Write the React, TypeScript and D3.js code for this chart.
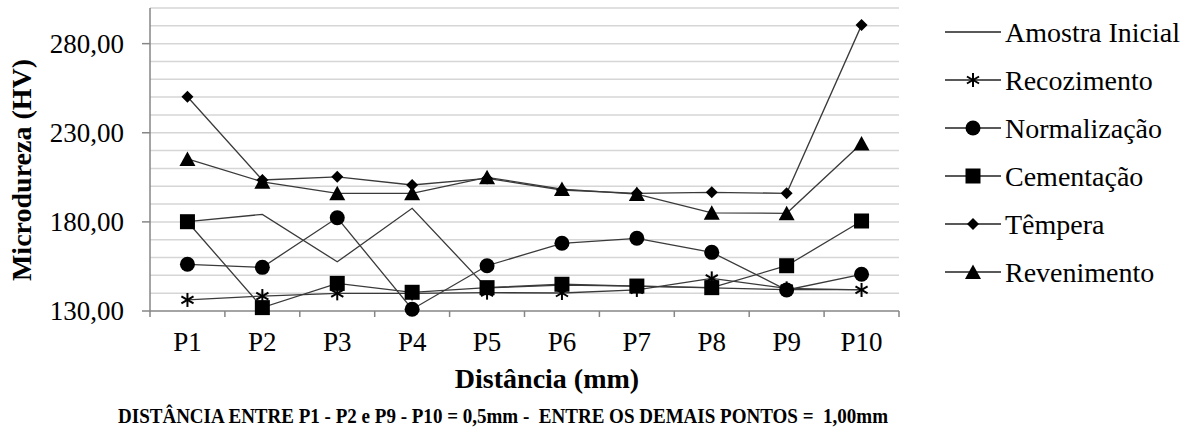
import React, { useEffect, useRef } from 'react';
import * as d3 from 'd3';

// pontos de medição
const points = ['P1', 'P2', 'P3', 'P4', 'P5', 'P6', 'P7', 'P8', 'P9', 'P10'];

// microdureza (HV)
const amostraInicial = [180.1, 184.2, 157.6, 187.6, 143.0, 144.5, 144.0, 143.0, 142.0, 142.0];
const recozimento = [136.2, 138.4, 139.9, 139.9, 140.3, 140.1, 141.8, 148.3, 142.7, 141.8];
const normalizacao = [156.2, 154.5, 182.3, 131.0, 155.4, 168.0, 170.8, 162.9, 141.8, 150.6];
const cementacao = [180.1, 131.9, 145.5, 140.5, 143.1, 145.0, 144.0, 143.1, 155.4, 180.5];
const tempera = [250.2, 203.5, 205.3, 200.7, 204.4, 197.9, 196.0, 196.6, 196.0, 290.4];
const revenimento = [215.3, 202.5, 196.0, 196.0, 205.0, 198.4, 195.6, 185.1, 184.8, 224.0];

const yLabelTicks = [130, 180, 230, 280];

const series = [
  { name: 'Amostra Inicial', values: amostraInicial, marker: 'none' },
  { name: 'Recozimento', values: recozimento, marker: 'star' },
  { name: 'Normalização', values: normalizacao, marker: 'circle' },
  { name: 'Cementação', values: cementacao, marker: 'square' },
  { name: 'Têmpera', values: tempera, marker: 'diamond' },
  { name: 'Revenimento', values: revenimento, marker: 'triangle' },
];

const note = 'DISTÂNCIA ENTRE P1 - P2 e P9 - P10 = 0,5mm -  ENTRE OS DEMAIS PONTOS =  1,00mm';

const FONT = '"Liberation Serif", "Times New Roman", serif';
const W = 1188;
const H = 430;

function drawMarker(g: d3.Selection<SVGGElement, unknown, null, undefined>, type: string, cx: number, cy: number) {
  const m = g.append('g').attr('transform', `translate(${cx},${cy})`);
  if (type === 'circle') {
    m.append('circle').attr('r', 7.5).attr('fill', '#000');
  } else if (type === 'square') {
    m.append('rect').attr('x', -7.5).attr('y', -7.5).attr('width', 15).attr('height', 15).attr('fill', '#000');
  } else if (type === 'diamond') {
    m.append('path').attr('d', 'M0,-6L6,0L0,6L-6,0Z').attr('fill', '#000');
  } else if (type === 'triangle') {
    m.append('path').attr('d', 'M0,-7.5L8,7L-8,7Z').attr('fill', '#000');
  } else if (type === 'star') {
    [90, 30, 150].forEach(a => {
      const r = (a * Math.PI) / 180;
      const dx = Math.cos(r) * 7;
      const dy = Math.sin(r) * 7;
      m.append('line')
        .attr('x1', -dx).attr('y1', -dy).attr('x2', dx).attr('y2', dy)
        .attr('stroke', '#000').attr('stroke-width', 2);
    });
  }
}

export default function App() {
  const svgRef = useRef<SVGSVGElement>(null);

  useEffect(() => {
    if (!svgRef.current) return;
    const svg = d3.select(svgRef.current);
    svg.selectAll('*').remove();

    const left = 150;
    const right = 899;
    const top = 8;
    const bottom = 311;

    const x = d3.scaleBand().domain(points).range([left, right]);
    const y = d3.scaleLinear().domain([130, 300]).range([bottom, top]);
    const cx = (p: string) => (x(p) as number) + x.bandwidth() / 2;

    svg.append('rect').attr('width', W).attr('height', H).attr('fill', '#fff');

    // linhas de grade
    svg.append('g')
      .selectAll('line')
      .data(y.ticks(17).filter(v => v > 130))
      .enter()
      .append('line')
      .attr('x1', left).attr('x2', right)
      .attr('y1', d => y(d)).attr('y2', d => y(d))
      .attr('stroke', '#d6d6d6')
      .attr('stroke-width', 1.5);

    // eixo y
    svg.append('line')
      .attr('x1', left).attr('x2', left).attr('y1', top).attr('y2', bottom)
      .attr('stroke', '#868686').attr('stroke-width', 1.5);
    const yt = svg.append('g');
    yLabelTicks.forEach(v => {
      yt.append('line')
        .attr('x1', left - 8).attr('x2', left).attr('y1', y(v)).attr('y2', y(v))
        .attr('stroke', '#868686').attr('stroke-width', 1.5);
      yt.append('text')
        .attr('x', 124).attr('y', y(v)).attr('dy', '0.34em')
        .attr('text-anchor', 'end')
        .style('font-family', FONT).style('font-size', '27px')
        .text(d3.format('.2f')(v).replace('.', ','));
    });

    // eixo x
    svg.append('line')
      .attr('x1', left).attr('x2', right).attr('y1', bottom).attr('y2', bottom)
      .attr('stroke', '#868686').attr('stroke-width', 1.5);
    const xt = svg.append('g');
    points.forEach(p => {
      const bx = x(p) as number;
      xt.append('line')
        .attr('x1', bx).attr('x2', bx).attr('y1', bottom).attr('y2', bottom + 6)
        .attr('stroke', '#868686').attr('stroke-width', 1.5);
      xt.append('text')
        .attr('x', cx(p)).attr('y', 351)
        .attr('text-anchor', 'middle')
        .style('font-family', FONT).style('font-size', '27px')
        .text(p);
    });
    xt.append('line')
      .attr('x1', right).attr('x2', right).attr('y1', bottom).attr('y2', bottom + 6)
      .attr('stroke', '#868686').attr('stroke-width', 1.5);

    // séries
    const line = d3.line<number>()
      .x((_, i) => cx(points[i]))
      .y(d => y(d));

    series.forEach(s => {
      svg.append('path')
        .attr('d', line(s.values) as string)
        .attr('fill', 'none')
        .attr('stroke', '#3a3a3a')
        .attr('stroke-width', 1.3);
    });
    series.forEach(s => {
      const g = svg.append('g');
      s.values.forEach((v, i) => drawMarker(g, s.marker, cx(points[i]), y(v)));
    });

    // legenda
    const lg = svg.append('g');
    series.forEach((s, i) => {
      const ly = 32 + i * 48;
      lg.append('line')
        .attr('x1', 945).attr('x2', 1001).attr('y1', ly).attr('y2', ly)
        .attr('stroke', '#222').attr('stroke-width', 1.3);
      drawMarker(lg, s.marker, 973, ly);
      lg.append('text')
        .attr('x', 1005).attr('y', ly + 9.5)
        .style('font-family', FONT).style('font-size', '28px')
        .text(s.name);
    });

    // títulos
    svg.append('text')
      .attr('x', 547).attr('y', 388)
      .attr('text-anchor', 'middle')
      .style('font-family', FONT).style('font-size', '28px').style('font-weight', 'bold')
      .text('Distância (mm)');

    svg.append('text')
      .attr('transform', 'translate(31,170) rotate(-90)')
      .attr('text-anchor', 'middle')
      .style('font-family', FONT).style('font-size', '28px').style('font-weight', 'bold')
      .text('Microdureza (HV)');

    svg.append('text')
      .attr('x', 118).attr('y', 423)
      .attr('textLength', 770)
      .attr('lengthAdjust', 'spacingAndGlyphs')
      .style('white-space', 'pre')
      .style('font-family', FONT).style('font-size', '22px').style('font-weight', 'bold')
      .text(note);
  }, []);

  return (
    <svg
      ref={svgRef}
      width={W}
      height={H}
      style={{ position: 'absolute', left: 0, top: 0 }}
    ></svg>
  );
}
